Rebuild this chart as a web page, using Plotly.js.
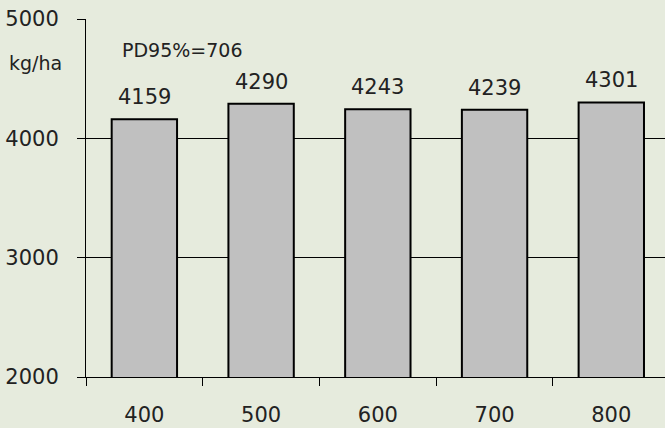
<!DOCTYPE html>
<html>
<head>
<meta charset="utf-8">
<script src="https://cdn.plot.ly/plotly-3.0.1.min.js"></script>
<style>html,body{margin:0;padding:0;background:#e6ebdd;}#chart{width:665px;height:428px;}</style>
</head>
<body>
<div id="chart"></div>
<script>
const categories = ['400', '500', '600', '700', '800'];
const yields = [4159, 4290, 4243, 4239, 4301];
const yTicks = [2000, 3000, 4000, 5000];
const unitLabel = 'kg/ha';
const lsdLabel = 'PD95%=706';

const FONT = 'DejaVu Sans';
const TXT = '#222222';
const BG = '#e6ebdd';

const trace = {
  type: 'bar',
  x: categories,
  y: yields,
  width: 0.56,
  marker: { color: '#c0c0c0', line: { color: '#000000', width: 2 } },
  hoverinfo: 'none',
  cliponaxis: false
};

const valueLabels = categories.map((c, i) => ({
  x: i, y: yields[i], xref: 'x', yref: 'y',
  text: String(yields[i]), showarrow: false,
  yanchor: 'middle', yshift: 22,
  font: { family: FONT, size: 21, color: TXT }
}));

const layout = {
  width: 665, height: 428,
  margin: { l: 86, r: 0, t: 19, b: 51, pad: 0 },
  paper_bgcolor: BG, plot_bgcolor: BG,
  showlegend: false,
  font: { family: FONT, size: 21, color: TXT },
  xaxis: {
    type: 'category',
    range: [-0.5, 4.46],
    tickson: 'boundaries',
    ticks: 'outside', ticklen: 8, tickwidth: 1, tickcolor: '#000',
    showline: true, linecolor: '#000', linewidth: 1,
    showgrid: false, zeroline: false,
    ticklabelstandoff: 19,
    tickfont: { family: FONT, size: 21, color: TXT }
  },
  yaxis: {
    range: [2000, 5000],
    tickvals: yTicks,
    ticktext: yTicks.map(String),
    ticks: 'outside', ticklen: 8, tickwidth: 1, tickcolor: '#000',
    showline: true, linecolor: '#000', linewidth: 1,
    showgrid: true, gridcolor: '#000', gridwidth: 1,
    zeroline: false,
    ticklabelstandoff: 14,
    tickfont: { family: FONT, size: 21, color: TXT }
  },
  annotations: valueLabels.concat([
    { xref: 'paper', yref: 'paper', x: -0.038, y: 0.878, xanchor: 'right', yanchor: 'middle',
      text: unitLabel, showarrow: false, font: { family: FONT, size: 19, color: TXT } },
    { xref: 'paper', yref: 'paper', x: 0.058, y: 0.913, xanchor: 'left', yanchor: 'middle',
      text: lsdLabel, showarrow: false, font: { family: FONT, size: 19, color: TXT } }
  ])
};

Plotly.newPlot('chart', [trace], layout, { staticPlot: true, displayModeBar: false });
</script>
</body>
</html>
